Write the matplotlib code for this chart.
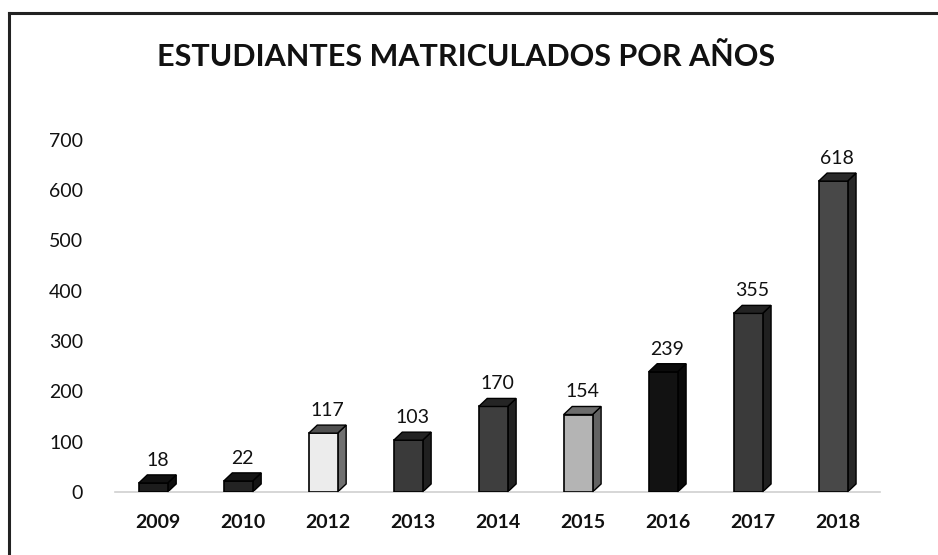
import matplotlib
matplotlib.use("Agg")
from matplotlib import pyplot as plt
from matplotlib.patches import Polygon
from matplotlib.lines import Line2D
import matplotlib.colors as mcolors

years = ["2009", "2010", "2012", "2013", "2014", "2015", "2016", "2017", "2018"]
students = [18, 22, 117, 103, 170, 154, 239, 355, 618]
face_colors = ["#1c1c1c", "#232323", "#ececec", "#3a3a3a", "#3e3e3e",
               "#b4b4b4", "#121212", "#3a3a3a", "#484848"]


def shade(color, f):
    r, g, b = mcolors.to_rgb(color)
    return (r * f, g * f, b * f)


def main():
    plt.rcParams['font.family'] = ['Lato', 'DejaVu Sans']

    fig = plt.figure(figsize=(9.38, 5.55), dpi=100)
    ax = fig.add_axes([0.1226, 0.1135, 0.8154, 0.6345])

    width = 0.34
    dx = 0.1    # depth in x (data units)
    dy = 16     # depth in y (data units)

    xs = [i - dx / 2 for i in range(len(years))]
    ax.bar(xs, students, width=width, color=face_colors, edgecolor="black",
           linewidth=1.2, zorder=3)

    for x, v, c in zip(xs, students, face_colors):
        right = x + width / 2
        left = x - width / 2
        light = c == "#ececec"
        side = Polygon([(right, 0), (right + dx, dy), (right + dx, v + dy), (right, v)],
                       closed=True, facecolor="#707070" if light else shade(c, 0.55),
                       edgecolor="black", linewidth=1.0, zorder=2, clip_on=False)
        top = Polygon([(left, v), (left + dx, v + dy), (right + dx, v + dy), (right, v)],
                      closed=True, facecolor="#505050" if light else shade(c, 0.6),
                      edgecolor="black", linewidth=1.0, zorder=4, clip_on=False)
        ax.add_patch(side)
        ax.add_patch(top)
        ax.text(x + dx / 2, v + dy + 12, str(v), ha="center", va="bottom",
                fontsize=14, color="#111111")

    ax.set_xlim(-0.5, len(years) - 0.5)
    ax.set_ylim(0, 700)
    ax.set_yticks(range(0, 701, 100))
    ax.set_xticks(range(len(years)))
    ax.set_xticklabels(years, fontweight="bold", fontsize=14)
    ax.tick_params(axis="both", length=0, colors="#111111", labelsize=14)
    ax.tick_params(axis="y", pad=23)
    ax.tick_params(axis="x", pad=16)
    for s in ["top", "right", "left"]:
        ax.spines[s].set_visible(False)
    ax.spines["bottom"].set_color("#d0d0d0")
    ax.spines["bottom"].set_linewidth(1.2)

    fig.text(0.497, 0.897, "ESTUDIANTES MATRICULADOS POR AÑOS", ha="center",
             va="center", fontsize=22, fontweight="bold", color="#111111")

    # frame around the chart
    fig.add_artist(Line2D([0.0096, 0.0096], [0.0, 0.977], color="#222222", linewidth=2.2))
    fig.add_artist(Line2D([0.0096, 1.0], [0.977, 0.977], color="#222222", linewidth=2.2))

    fig.savefig("out.png", dpi=100)


if __name__ == "__main__":
    main()
